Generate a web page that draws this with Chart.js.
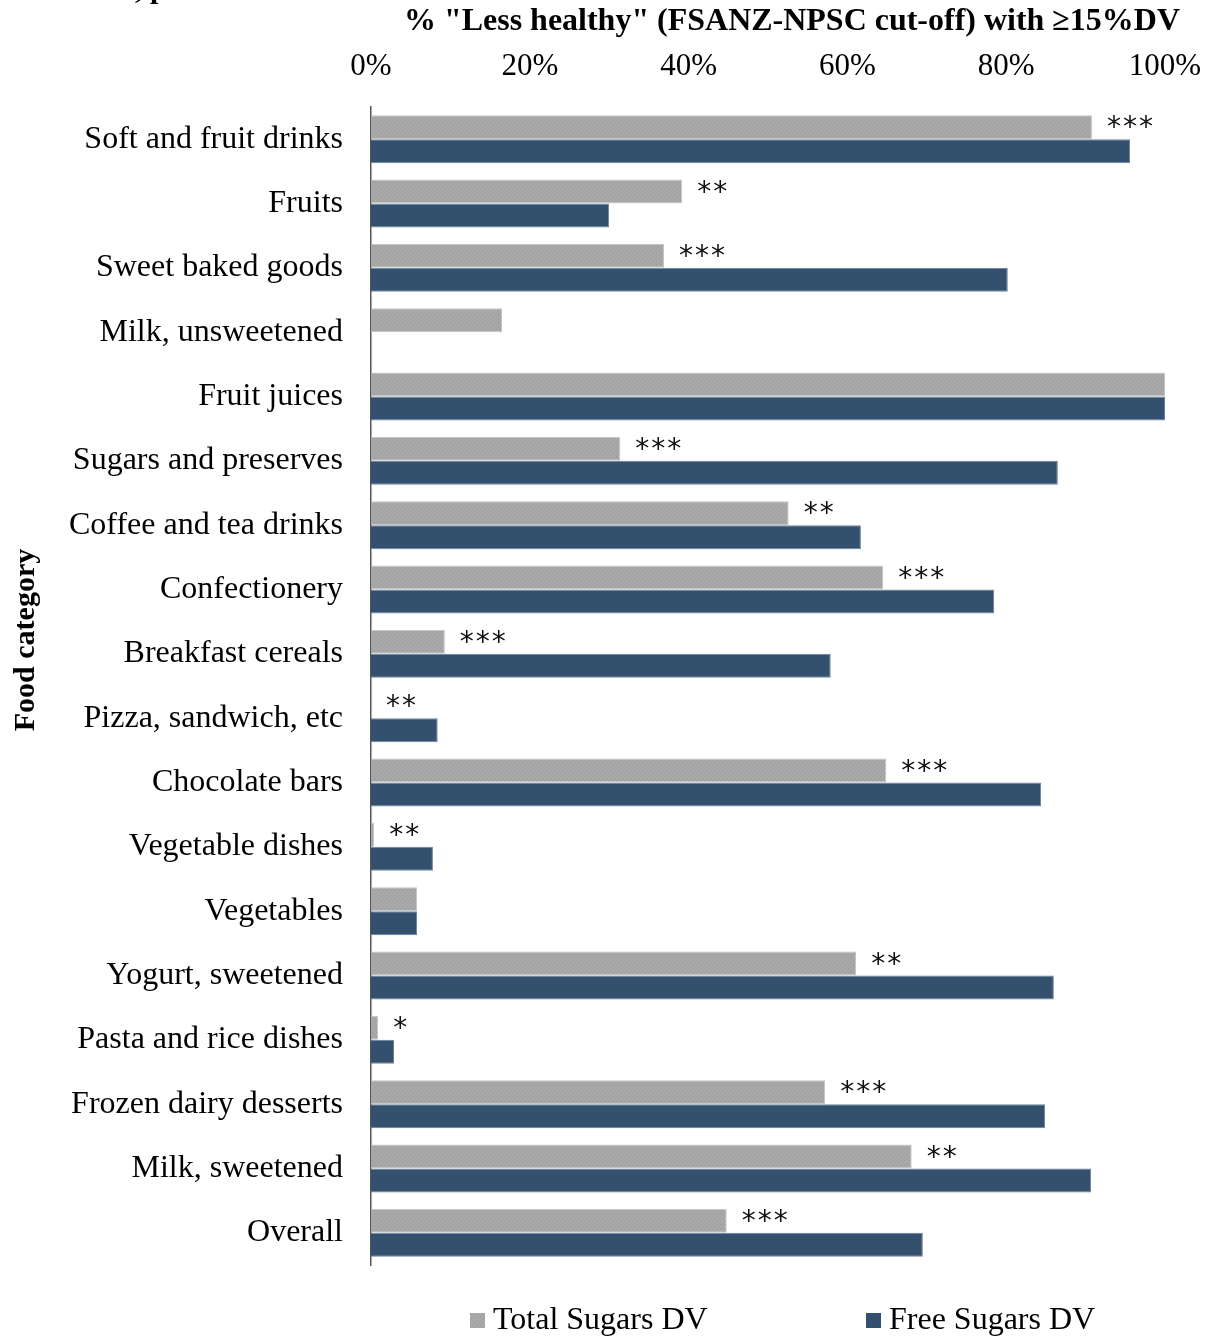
<!DOCTYPE html>
<html>
<head>
<meta charset="utf-8">
<script src="https://cdn.jsdelivr.net/npm/chart.js@4"></script>
<style>
  html, body { margin: 0; padding: 0; background: #fff; }
  #wrap { width: 1217px; height: 1336px; position: relative; }
</style>
</head>
<body>
<div id="wrap"><canvas id="c" width="1217" height="1336"></canvas></div>
<script>
// Food categories, top to bottom
const categories = [
  'Soft and fruit drinks', 'Fruits', 'Sweet baked goods', 'Milk, unsweetened',
  'Fruit juices', 'Sugars and preserves', 'Coffee and tea drinks', 'Confectionery',
  'Breakfast cereals', 'Pizza, sandwich, etc', 'Chocolate bars', 'Vegetable dishes',
  'Vegetables', 'Yogurt, sweetened', 'Pasta and rice dishes', 'Frozen dairy desserts',
  'Milk, sweetened', 'Overall'
];

// % "less healthy" products with >=15% DV
const totalSugars = [90.8, 39.2, 36.9, 16.5, 100, 31.4, 52.6, 64.5, 9.3, 0, 64.9, 0.4, 5.8, 61.1, 0.9, 57.2, 68.1, 44.8];
const freeSugars  = [95.6, 30.0, 80.2, 0, 100, 86.5, 61.7, 78.5, 57.9, 8.4, 84.4, 7.8, 5.8, 86.0, 2.9, 84.9, 90.7, 69.5];

// Significance of the difference between the two criteria
const significance = ['***', '**', '***', '', '', '***', '**', '***', '***', '**', '***', '**', '', '**', '*', '***', '**', '***'];

const xTicks = [0, 20, 40, 60, 80, 100];

const SERIF = '"Liberation Serif", "Times New Roman", serif';

// Dotted grey fill for the total-sugars bars
function dottedFill() {
  const p = document.createElement('canvas');
  p.width = 4; p.height = 4;
  const g = p.getContext('2d');
  g.fillStyle = '#a7a7a7';
  g.fillRect(0, 0, 4, 4);
  g.fillStyle = '#9a9a9a';
  g.fillRect(0, 0, 1, 1);
  g.fillRect(2, 2, 1, 1);
  g.fillStyle = '#b0b0b0';
  g.fillRect(2, 0, 1, 1);
  g.fillRect(0, 2, 1, 1);
  return document.getElementById('c').getContext('2d').createPattern(p, 'repeat');
}

const GREY = dottedFill();
const BLUE = '#34506f';

const decorations = {
  id: 'decorations',
  afterDatasetsDraw(chart) {
    const ctx = chart.ctx;
    const grey = chart.getDatasetMeta(0).data;

    // significance stars after the total-sugars bars
    ctx.save();
    ctx.fillStyle = '#111';
    ctx.font = '28px "DejaVu Sans", sans-serif';
    ctx.textAlign = 'left';
    ctx.textBaseline = 'alphabetic';
    significance.forEach((s, i) => {
      const el = grey[i];
      for (let k = 0; k < s.length; k++) {
        ctx.fillText('*', el.x + 15 + k * 16, el.y + 9);
      }
    });
    ctx.restore();
  },
  afterDraw(chart) {
    const ctx = chart.ctx;
    ctx.save();
    ctx.fillStyle = '#000';

    // clipped caption line above the chart
    ctx.font = 'bold 30px ' + SERIF;
    ctx.textAlign = 'left';
    ctx.textBaseline = 'alphabetic';
    ctx.fillText(', p', 135, -2);

    // axis title above the tick labels
    ctx.font = 'bold 32px ' + SERIF;
    ctx.textAlign = 'center';
    ctx.textBaseline = 'middle';
    ctx.fillText('% "Less healthy" (FSANZ-NPSC cut-off) with \u226515%DV', 792, 22, 776);

    // vertical axis title
    ctx.font = 'bold 30px ' + SERIF;
    ctx.save();
    ctx.translate(26, 640);
    ctx.rotate(-Math.PI / 2);
    ctx.fillText('Food category', 0, 0, 192);
    ctx.restore();

    // legend
    const sets = chart.data.datasets;
    const items = [
      { x: 470, label: sets[0].label, color: GREY },
      { x: 866, label: sets[1].label, color: BLUE }
    ];
    ctx.font = '32px ' + SERIF;
    ctx.textAlign = 'left';
    ctx.textBaseline = 'middle';
    items.forEach(it => {
      ctx.fillStyle = it.color;
      ctx.fillRect(it.x, 1313, 15, 15);
      ctx.fillStyle = '#000';
      ctx.fillText(it.label, it.x + 23, 1321);
    });
    ctx.restore();
  }
};

new Chart(document.getElementById('c'), {
  type: 'bar',
  data: {
    labels: categories,
    datasets: [
      {
        label: 'Total Sugars DV',
        data: totalSugars,
        backgroundColor: GREY,
        borderColor: '#c4c4c4',
        borderWidth: 1,
        categoryPercentage: 0.746,
        barPercentage: 1.0
      },
      {
        label: 'Free Sugars DV',
        data: freeSugars,
        backgroundColor: BLUE,
        borderColor: '#6a819b',
        borderWidth: 1,
        categoryPercentage: 0.746,
        barPercentage: 1.0
      }
    ]
  },
  options: {
    indexAxis: 'y',
    responsive: false,
    animation: false,
    layout: { padding: { left: 0, right: 52, top: 0, bottom: 71 } },
    plugins: {
      legend: { display: false },
      title: { display: false },
      tooltip: { enabled: false }
    },
    scales: {
      x: {
        position: 'top',
        min: 0,
        max: 100,
        afterBuildTicks(scale) {
          scale.ticks = xTicks.map(v => ({ value: v }));
        },
        ticks: {
          callback: v => v + '%',
          color: '#000',
          font: { family: SERIF, size: 31 },
          padding: 22,
          maxRotation: 0
        },
        grid: { display: false, drawTicks: false },
        border: { display: false },
        afterFit(scale) {
          scale.height = 107;
          scale.paddingLeft = 0;
          scale.paddingRight = 0;
        }
      },
      y: {
        ticks: {
          color: '#000',
          font: { family: SERIF, size: 32 },
          padding: 28,
          autoSkip: false
        },
        grid: { display: false, drawTicks: false },
        border: { display: true, color: '#555', width: 1.5 },
        afterFit(scale) { scale.width = 371; }
      }
    }
  },
  plugins: [decorations]
});
</script>
</body>
</html>
